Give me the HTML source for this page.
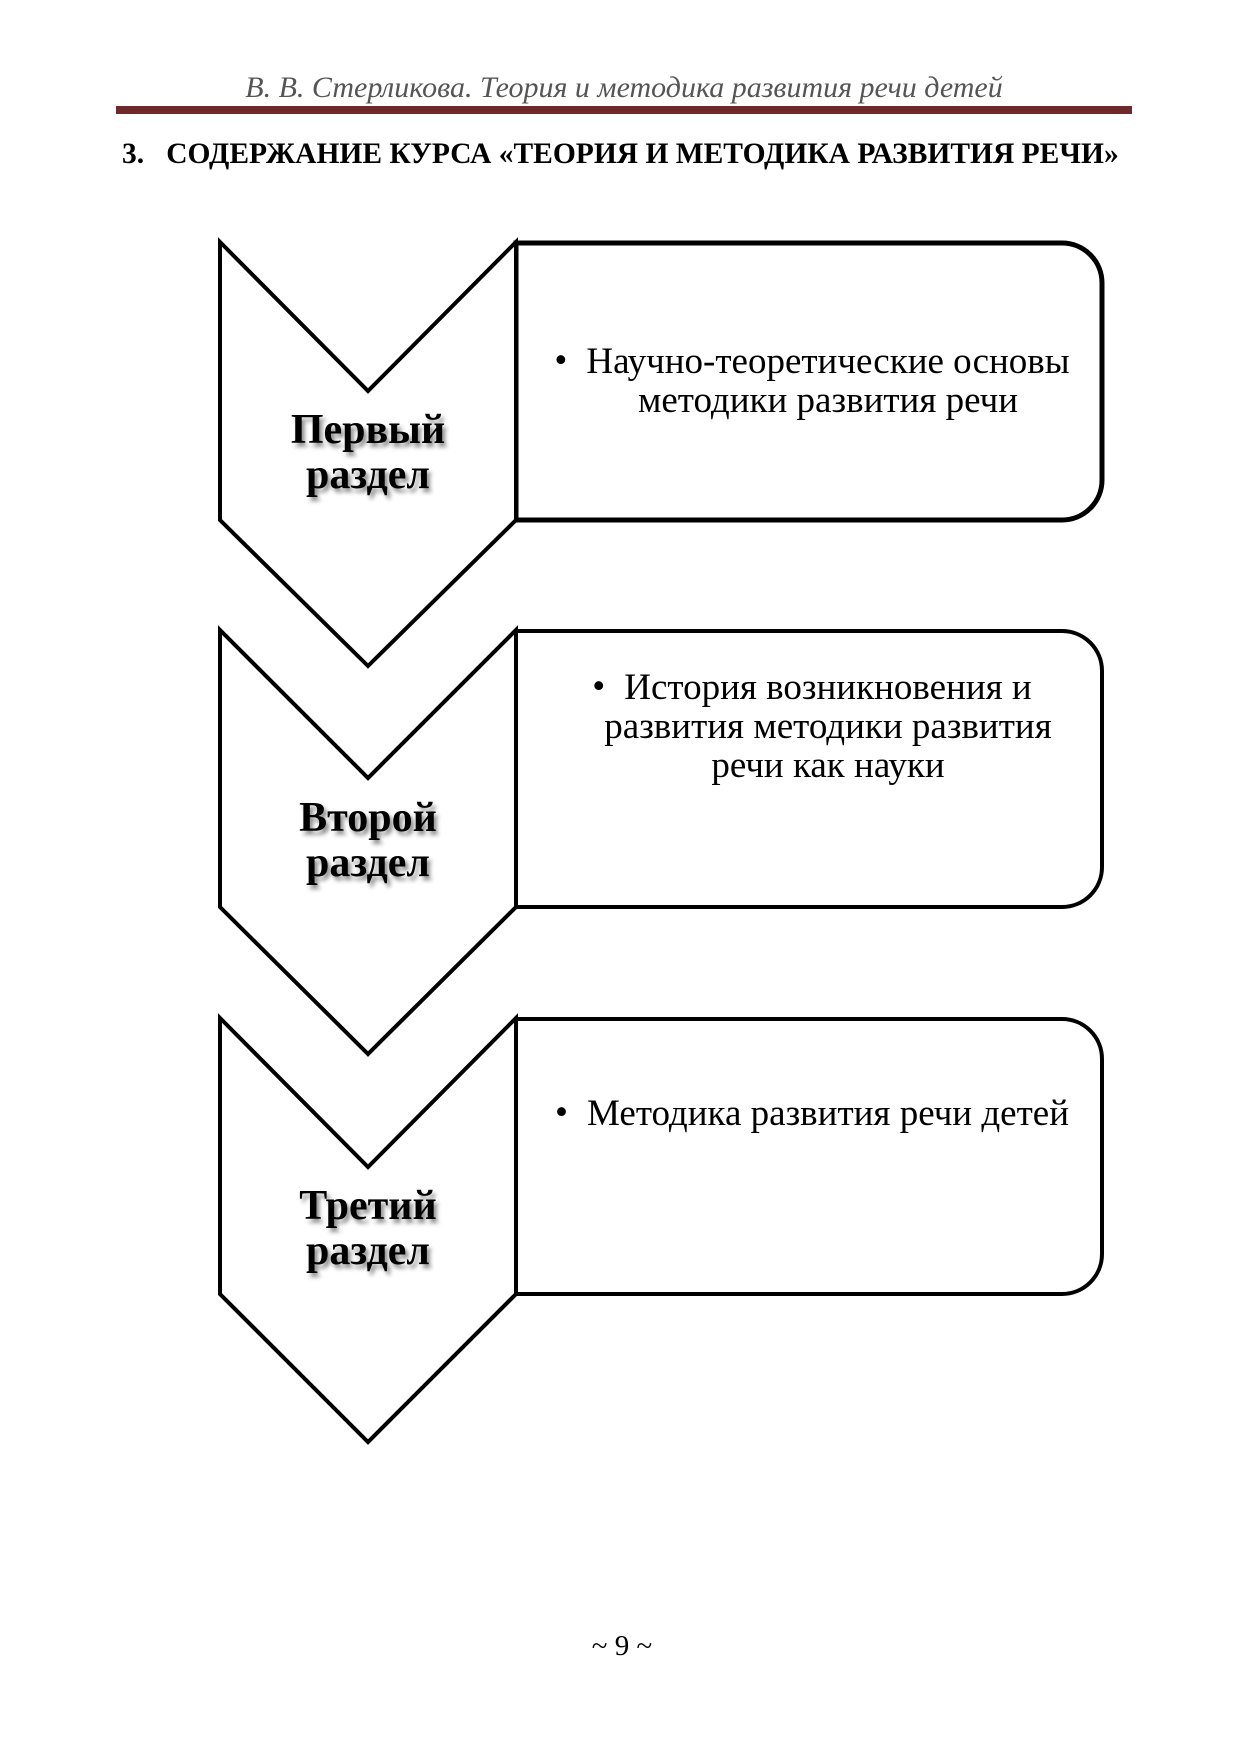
<!DOCTYPE html>
<html><head><meta charset="utf-8"><style>
html,body{margin:0;padding:0;background:#fff}
body{width:1240px;height:1754px;position:relative;overflow:hidden;font-family:"Liberation Serif",serif}
.abs{position:absolute}
.hdr{left:0;width:1248px;text-align:center;top:71px;font-style:italic;font-size:30px;color:#555}
.bar{left:116px;width:1016px;top:106px;height:8px;background:#6e2a2a}
.title{left:122px;top:138px;font-weight:bold;font-size:29.5px;white-space:nowrap}
.lab{width:296px;left:220px;text-align:center;font-weight:bold;font-size:42px;line-height:45px;text-shadow:3px 4px 4px rgba(0,0,0,.45)}
.txt{left:528px;width:600px;text-align:center;font-size:37px;line-height:39px}
.f{position:relative}
.b{position:absolute;left:-32px;top:0}
.pg{left:0;width:1244px;text-align:center;top:1630px;font-size:29px}
</style></head><body>
<div class="abs hdr">В. В. Стерликова. Теория и методика развития речи детей</div>
<div class="abs bar"></div>
<div class="abs title">3.&nbsp;&nbsp;&nbsp;СОДЕРЖАНИЕ КУРСА «ТЕОРИЯ И МЕТОДИКА РАЗВИТИЯ РЕЧИ»</div>
<svg class="abs" style="left:0;top:0" width="1240" height="1754">
<g fill="#fff" stroke="#000" stroke-linejoin="miter">
<path d="M516 243 H1062 A40 40 0 0 1 1102 283 V480 A40 40 0 0 1 1062 520 H516 Z" stroke-width="5"/>
<path d="M516 631 H1062 A40 40 0 0 1 1102 671 V867 A40 40 0 0 1 1062 907 H516 Z" stroke-width="4"/>
<path d="M516 1019 H1062 A40 40 0 0 1 1102 1059 V1254 A40 40 0 0 1 1062 1294 H516 Z" stroke-width="4"/>
<path d="M220 242 L368 391 L516 242 V520 L368 666 L220 520 Z" stroke-width="4"/>
<path d="M220 630 L368 778 L516 630 V907 L368 1054 L220 907 Z" stroke-width="4"/>
<path d="M220 1018 L368 1167 L516 1018 V1294 L368 1442 L220 1294 Z" stroke-width="4"/>
</g></svg>
<div class="abs lab" style="top:408px">Первый<br>раздел</div>
<div class="abs lab" style="top:796px">Второй<br>раздел</div>
<div class="abs lab" style="top:1184px">Третий<br>раздел</div>
<div class="abs txt" style="top:342px"><span class="f"><span class="b">•</span>Научно-теоретические основы</span><br>методики развития речи</div>
<div class="abs txt" style="top:668px"><span class="f"><span class="b">•</span>История возникновения и</span><br>развития методики развития<br>речи как науки</div>
<div class="abs txt" style="top:1094px"><span class="f"><span class="b">•</span>Методика развития речи детей</span></div>
<div class="abs pg">~ 9 ~</div>
</body></html>
